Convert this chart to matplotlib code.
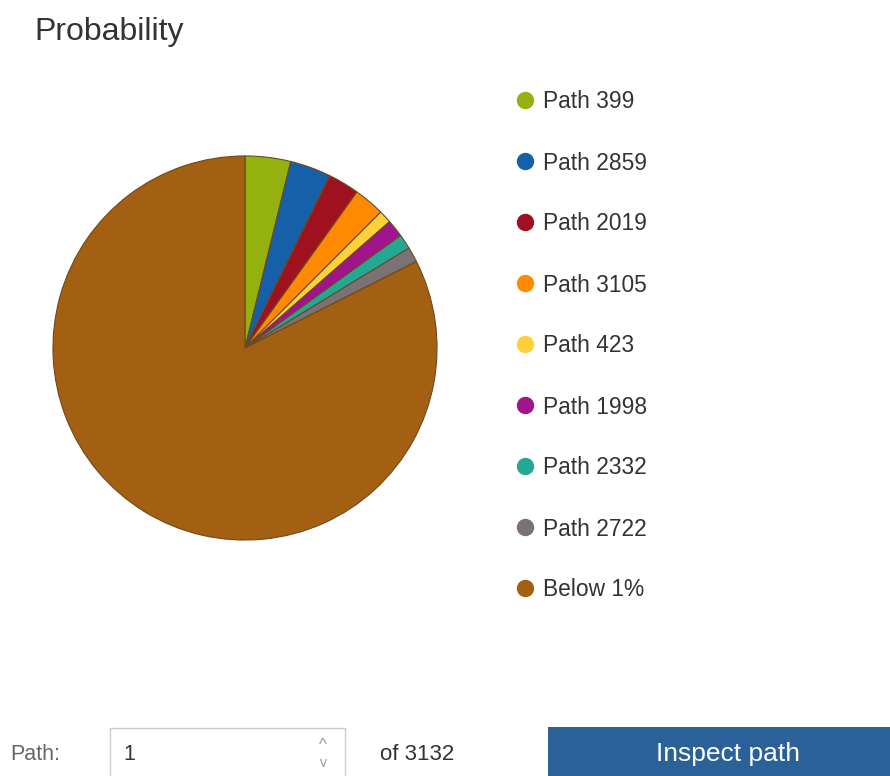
import matplotlib

matplotlib.use("Agg")
import matplotlib.pyplot as plt
from matplotlib.lines import Line2D
from matplotlib.patches import Rectangle

plt.rcParams["font.family"] = ["Liberation Sans", "DejaVu Sans"]

labels = ["Path 399", "Path 2859", "Path 2019", "Path 3105", "Path 423",
          "Path 1998", "Path 2332", "Path 2722", "Below 1%"]
shares = [3.83, 3.44, 2.64, 2.58, 1.08, 1.47, 1.25, 1.28, 82.43]
colors = ["#94b10f", "#1560a8", "#a0111f", "#ff8a00", "#ffd03a",
          "#a0148c", "#24a894", "#7a7275", "#a35f12"]

W, H = 890, 776
fig = plt.figure(figsize=(W / 100, H / 100), dpi=100)


def fx(px):
    return px / W


def fy(py):
    return 1 - py / H


fig.text(fx(34), fy(32), "Probability", fontsize=23, color="#333333", va="center", ha="left")

# pie
cx, cy, r = 245, 348, 193
ax = fig.add_axes([fx(cx - r), fy(cy + r), 2 * r / W, 2 * r / H])
ax.pie(shares, colors=colors, startangle=90, counterclock=False, radius=1,
       wedgeprops=dict(edgecolor="#6b4a1e", linewidth=0.8))
ax.set_xlim(-1.005, 1.005)
ax.set_ylim(-1.005, 1.005)
ax.set_aspect("equal")
ax.axis("off")

# legend
for i, (lab, col) in enumerate(zip(labels, colors)):
    y = 100 + 61 * i
    fig.add_artist(Line2D([fx(525)], [fy(y)], marker="o", markersize=11.5, color=col,
                          linestyle="", transform=fig.transFigure))
    fig.text(fx(543), fy(y + 2), lab, fontsize=16.4, color="#333333", va="center", ha="left")

# bottom controls
fig.text(fx(10), fy(755), "Path:", fontsize=15.5, color="#666666", va="center", ha="left")
fig.add_artist(Rectangle((fx(110), fy(790)), fx(235), 62 / H, transform=fig.transFigure,
                         facecolor="white", edgecolor="#cccccc", linewidth=1))
fig.text(fx(123), fy(755), "1", fontsize=15.5, color="#333333", va="center", ha="left")
fig.text(fx(323), fy(746), "^", fontsize=12, color="#999999", va="center", ha="center")
fig.text(fx(323), fy(763), "v", fontsize=10, color="#999999", va="center", ha="center")
fig.text(fx(380), fy(755), "of 3132", fontsize=16, color="#333333", va="center", ha="left")
fig.add_artist(Rectangle((fx(548), fy(790)), fx(345), 63 / H, transform=fig.transFigure,
                         facecolor="#2a6199", edgecolor="none"))
fig.text(fx(728), fy(754), "Inspect path", fontsize=19, color="white", va="center", ha="center")

fig.savefig("out.png", dpi=100)
